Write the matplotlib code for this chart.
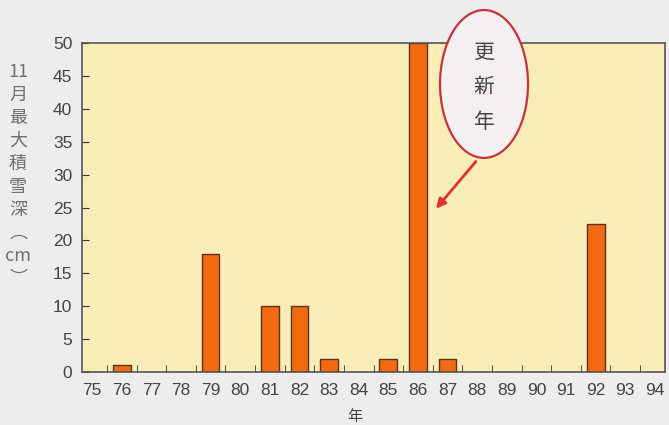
import matplotlib
matplotlib.use("Agg")
import matplotlib.pyplot as plt
from matplotlib.patches import Ellipse

plt.rcParams['font.family'] = ['Noto Sans CJK JP', 'DejaVu Sans']

# 11月最大積雪深 by year
years = list(range(75, 95))
depth = [0, 1, 0, 0, 18, 0, 10, 10, 2, 0, 2, 50, 2, 0, 0, 0, 0, 22.5, 0, 0]
ylabel_chars = ['11', '月', '最', '大', '積', '雪', '深', '︵', 'cm', '︶']
callout = '更\n新\n年'

fig = plt.figure(figsize=(6.69, 4.25), dpi=100, facecolor='#eeeced')
ax = fig.add_axes([0.1226, 0.1247, 0.8714, 0.7741], facecolor='#f8edb6')

ax.bar(years, depth, width=0.6, color='#f26b11', edgecolor='#5a3320', linewidth=1.0, zorder=2)

ax.set_xlim(74.66, 94.34)
ax.set_ylim(0, 50)
ax.set_yticks(range(0, 51, 5))
ax.set_xticks(years)
ax.set_xticklabels([str(y) for y in years])
ax.set_xticks([y + 0.5 for y in years[:-1]], minor=True)
ax.tick_params(axis='x', which='major', length=0, pad=8, labelsize=12.5, labelcolor='#444444')
ax.tick_params(axis='x', which='minor', direction='in', length=5, color='#333333')
ax.tick_params(axis='y', direction='in', length=5, color='#333333', labelsize=12.5,
               labelcolor='#444444', pad=7)
for lab in ax.get_xticklabels() + ax.get_yticklabels():
    lab.set_fontfamily('Liberation Sans')
for s in ax.spines.values():
    s.set_color('#555555')
    s.set_linewidth(1.2)

# stacked vertical y label
y0 = 0.83
for i, ch in enumerate(ylabel_chars):
    fig.text(0.027, y0 - i * 0.054, ch, ha='center', va='center', fontsize=13, color='#707070')

fig.text(0.53, 0.0, '年', ha='center', va='bottom', fontsize=11, color='#444444')

# callout ellipse + arrow
el = Ellipse((0.7235, 0.8024), 0.1315, 0.348, transform=fig.transFigure,
             facecolor='#f4eff1', edgecolor='#c8323c', linewidth=1.6, zorder=5)
fig.add_artist(el)
fig.text(0.7235, 0.795, callout, ha='center', va='center', fontsize=15, color='#444444',
         linespacing=1.75, zorder=6)
ax.annotate('', xy=(86.55, 24.5), xycoords='data', xytext=(0.714, 0.625),
            textcoords='figure fraction',
            arrowprops=dict(arrowstyle='-|>', color='#e03030', lw=2, mutation_scale=14),
            annotation_clip=False)

fig.savefig('out.png', dpi=100, facecolor=fig.get_facecolor())
